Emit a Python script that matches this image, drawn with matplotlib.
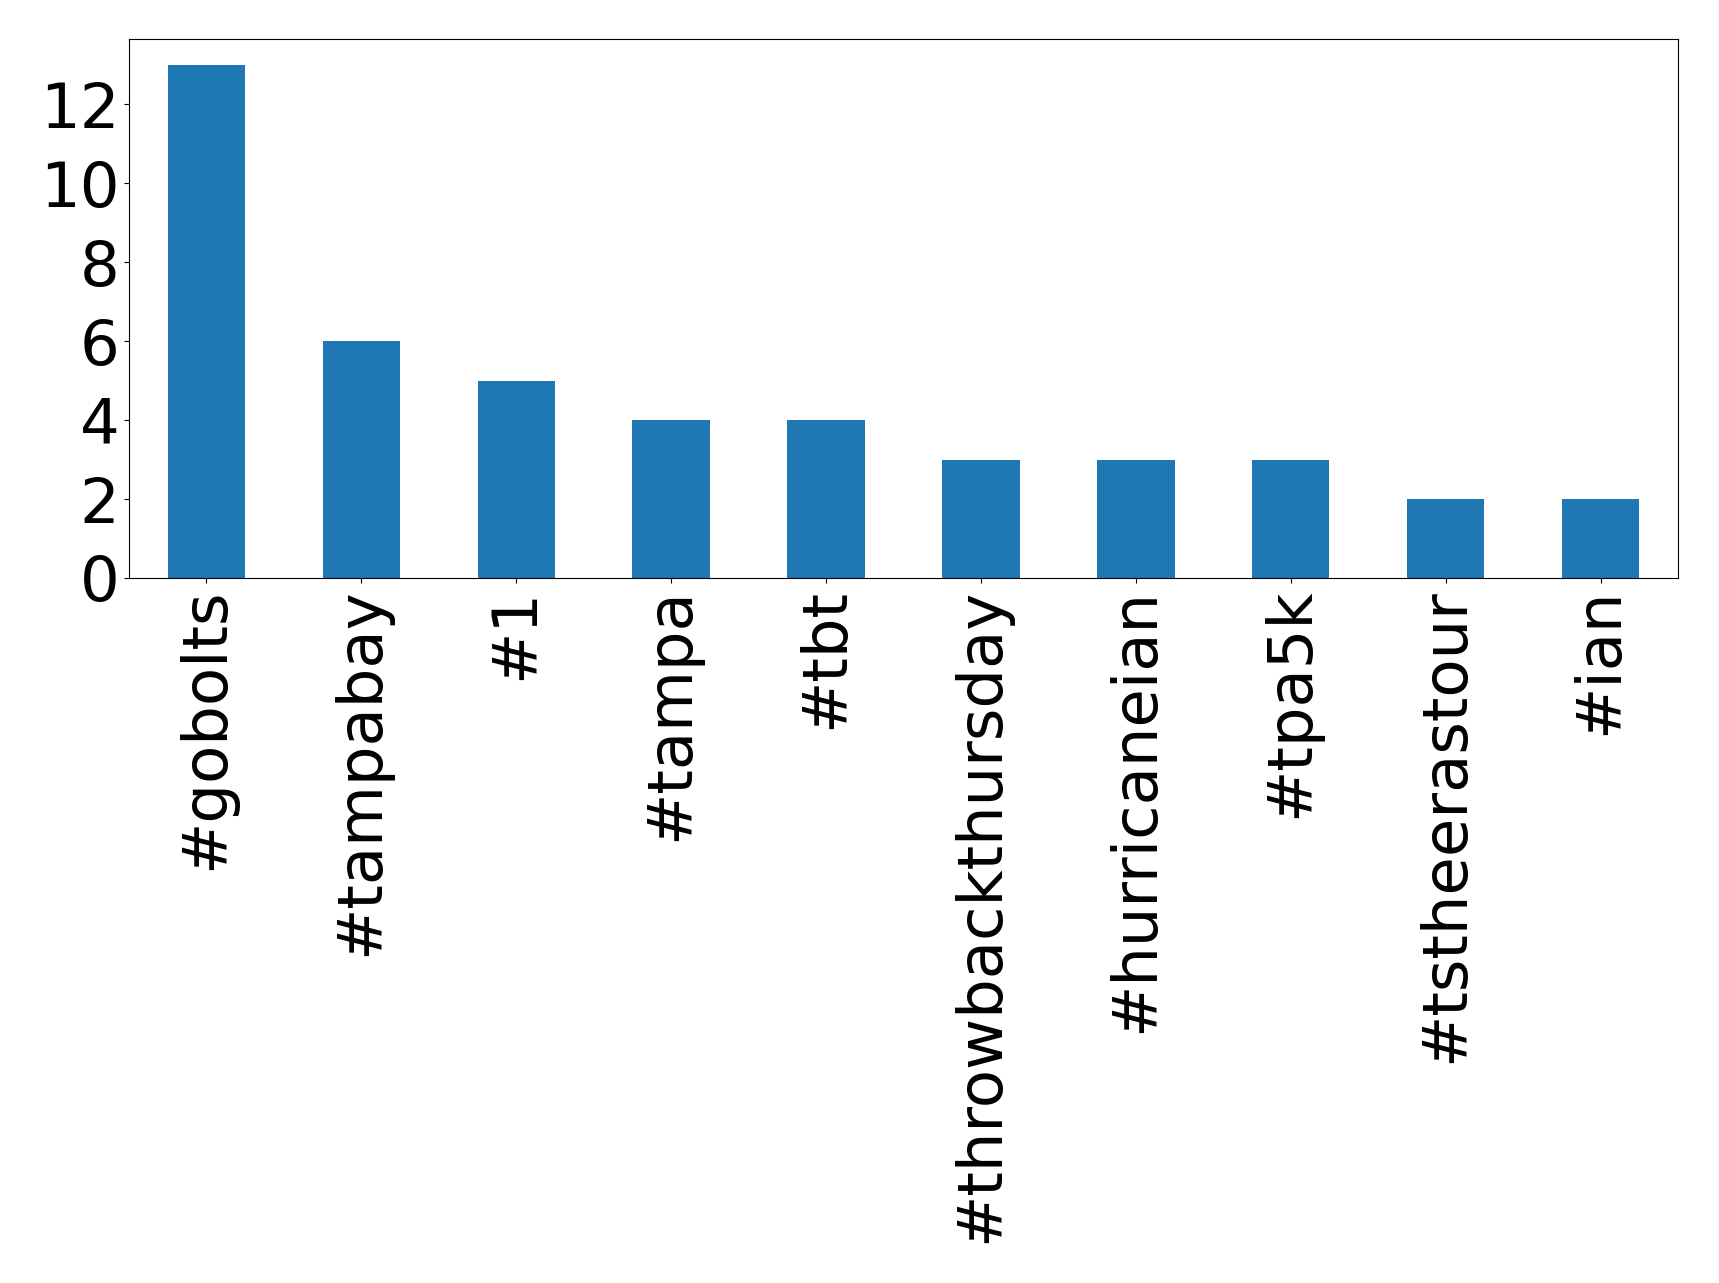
import matplotlib
matplotlib.use("Agg")
import matplotlib.pyplot as plt

categories = ["#gobolts", "#tampabay", "#1", "#tampa", "#tbt", "#throwbackthursday",
              "#hurricaneian", "#tpa5k", "#tstheerastour", "#ian"]
counts = [13, 6, 5, 4, 4, 3, 3, 3, 2, 2]

fig = plt.figure(figsize=(17.19, 12.83), dpi=100)
ax = fig.add_axes([129/1719, 1 - 578/1283, (1678-129)/1719, (578-39)/1283])
x = range(len(categories))
ax.bar(x, counts, width=0.5, color="#1f77b4")
ax.set_xlim(-0.5, len(categories) - 0.5)
ax.set_xticks(list(x))
ax.set_xticklabels(categories, rotation=90)
ax.tick_params(labelsize=45)
ax.set_yticks([0, 2, 4, 6, 8, 10, 12])
fig.savefig("out.png", dpi=100)
